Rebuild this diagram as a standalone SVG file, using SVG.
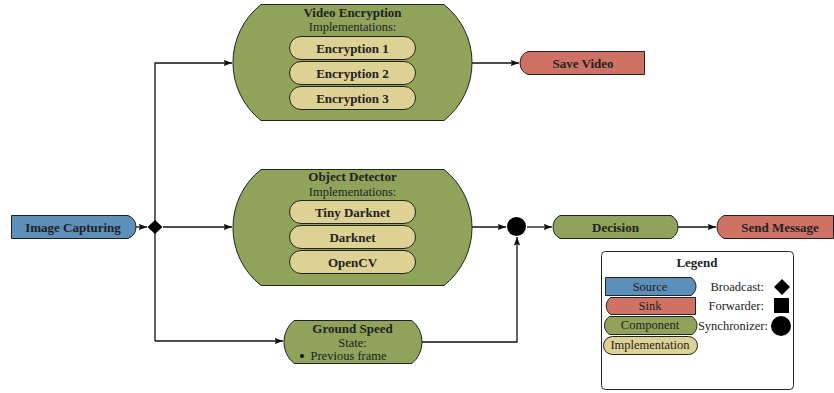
<svg xmlns="http://www.w3.org/2000/svg" width="834" height="393" viewBox="0 0 834 393">
<defs>
<style>
.src{fill:#5c8fba;stroke:#222;stroke-width:1}
.snk{fill:#cf7265;stroke:#222;stroke-width:1}
.cmp{fill:#8fa35b;stroke:#222;stroke-width:1}
.imp{fill:#ddd193;stroke:#222;stroke-width:1}
text{fill:#222;text-anchor:middle}
.b{font-weight:bold;font-size:13px}
.r{font-size:12.5px}
.conn{fill:none;stroke:#111;stroke-width:1.3}
</style>
<marker id="ah" markerUnits="userSpaceOnUse" markerWidth="9" markerHeight="7" refX="8.5" refY="3.5" orient="auto">
<path d="M0,0.3 L8.5,3.5 L0,6.7 L1.5,3.5 z" fill="#111"/>
</marker>
</defs>
<rect width="834" height="393" fill="#fff"/>
<g font-family="Liberation Serif, DejaVu Serif, serif">
<g id="connectors">
<path class="conn" d="M136,227 H147" marker-end="url(#ah)"/>
<path class="conn" d="M155,341 V63 H232" marker-end="url(#ah)"/>
<path class="conn" d="M163,227 H232" marker-end="url(#ah)"/>
<path class="conn" d="M155,341 H283" marker-end="url(#ah)"/>
<path class="conn" d="M472,63 H519" marker-end="url(#ah)"/>
<path class="conn" d="M472,227 H506" marker-end="url(#ah)"/>
<path class="conn" d="M422,342 H517 V237" marker-end="url(#ah)"/>
<path class="conn" d="M527,227 H552" marker-end="url(#ah)"/>
<path class="conn" d="M678,227 H716" marker-end="url(#ah)"/>
</g>

<g id="image-capturing">
<path class="src" d="M11.5,215.5 H128 A12.3,12.3 0 0 1 128,238.5 H11.5 Z"/>
<text class="b" x="73" y="231.5">Image Capturing</text>
</g>

<g id="broadcast">
<path d="M155,220 L162.5,227 L155,234 L147.5,227 Z" fill="#000"/>
</g>

<g id="video-encryption">
<path class="cmp" d="M261,4.5 H444 A74,74 0 0 1 444,120.5 H261 A74,74 0 0 1 261,4.5 Z"/>
<text class="b" x="352.5" y="17">Video Encryption</text>
<text class="r" x="352.5" y="31">Implementations:</text>
<g id="enc1"><rect class="imp" x="289.5" y="36.5" width="126" height="23" rx="11.5"/><text class="b" x="352.5" y="52.5">Encryption 1</text></g>
<g id="enc2"><rect class="imp" x="289.5" y="61.5" width="126" height="23" rx="11.5"/><text class="b" x="352.5" y="77.5">Encryption 2</text></g>
<g id="enc3"><rect class="imp" x="289.5" y="86.5" width="126" height="23" rx="11.5"/><text class="b" x="352.5" y="102.5">Encryption 3</text></g>
</g>

<g id="object-detector">
<path class="cmp" d="M261,169.5 H444 A74,74 0 0 1 444,285.5 H261 A74,74 0 0 1 261,169.5 Z"/>
<text class="b" x="352.5" y="181">Object Detector</text>
<text class="r" x="352.5" y="195.5">Implementations:</text>
<g id="tiny-darknet"><rect class="imp" x="289.5" y="200.5" width="126" height="23" rx="11.5"/><text class="b" x="352.5" y="216.5">Tiny Darknet</text></g>
<g id="darknet"><rect class="imp" x="289.5" y="225.5" width="126" height="23" rx="11.5"/><text class="b" x="352.5" y="241.5">Darknet</text></g>
<g id="opencv"><rect class="imp" x="289.5" y="250.5" width="126" height="23" rx="11.5"/><text class="b" x="352.5" y="266.5">OpenCV</text></g>
</g>

<g id="ground-speed">
<path class="cmp" d="M294,320.5 H412 A28,28 0 0 1 412,363.5 H294 A28,28 0 0 1 294,320.5 Z"/>
<text class="b" x="352.5" y="332.5">Ground Speed</text>
<text class="r" x="352.5" y="347">State:</text>
<circle cx="302" cy="356" r="2" fill="#111"/>
<text class="r" x="310.5" y="360" style="text-anchor:start">Previous frame</text>
</g>

<g id="save-video">
<path class="snk" d="M528,51.5 H644.5 V74.5 H528 A12.3,12.3 0 0 1 528,51.5 Z"/>
<text class="b" x="583" y="67.5">Save Video</text>
</g>

<g id="synchronizer">
<circle cx="516.5" cy="226.5" r="9.5" fill="#000"/>
</g>

<g id="decision">
<path class="cmp" d="M560,215.5 H671 A13,13 0 0 1 671,238.5 H560 A13,13 0 0 1 560,215.5 Z"/>
<text class="b" x="615.5" y="231.5">Decision</text>
</g>

<g id="send-message">
<path class="snk" d="M724,215.5 H833.5 V238.5 H724 A13,13 0 0 1 724,215.5 Z"/>
<text class="b" x="780" y="231.5">Send Message</text>
</g>

<g id="legend">
<rect x="601.5" y="251.5" width="192" height="138" rx="4" fill="#fff" stroke="#222" stroke-width="1"/>
<text class="b" x="697" y="266.5">Legend</text>
<path class="src" d="M605.5,277.5 H691 A10.6,10.6 0 0 1 691,295.5 H605.5 Z"/>
<text class="r" x="650" y="291">Source</text>
<path class="snk" d="M610.5,297.5 H695.5 V314.5 H610.5 A10.6,10.6 0 0 1 610.5,297.5 Z"/>
<text class="r" x="650" y="310">Sink</text>
<path class="cmp" d="M609.5,316.5 H692 A10.6,10.6 0 0 1 692,334.5 H609.5 A10.6,10.6 0 0 1 609.5,316.5 Z"/>
<text class="r" x="650" y="329">Component</text>
<rect class="imp" x="603.5" y="336.5" width="94" height="18" rx="9"/>
<text class="r" x="650" y="349">Implementation</text>
<text class="r" x="764" y="291" style="text-anchor:end">Broadcast:</text>
<path d="M782,279 L790,287 L782,295 L774,287 Z" fill="#000"/>
<text class="r" x="764" y="310" style="text-anchor:end">Forwarder:</text>
<rect x="774" y="298" width="15" height="15" fill="#000"/>
<text class="r" x="768" y="330" style="text-anchor:end">Synchronizer:</text>
<circle cx="781" cy="326" r="10" fill="#000"/>
</g>
</g>
</svg>
